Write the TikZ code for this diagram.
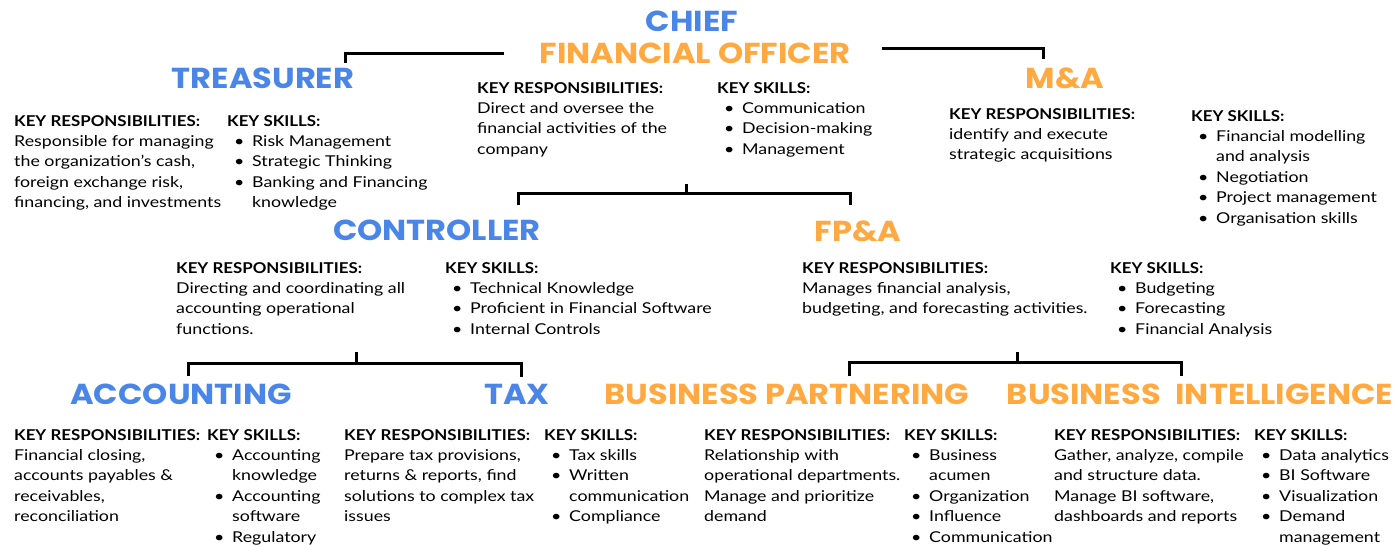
\documentclass[tikz,border=0pt]{standalone}
\usepackage{fontspec}
\setmainfont{Lato}[FakeStretch=1.19,BoldFeatures={FakeStretch=1.13}]
\newfontfamily\headfont{Poppins}[FakeStretch=1.11]
\definecolor{roleblue}{HTML}{4A86E8}
\definecolor{roleorange}{HTML}{FFA940}
\newcommand{\bul}[1]{\hspace*{7bp}\makebox[18bp][l]{\textbullet}#1}
\newcommand{\cont}[1]{\hspace*{25bp}#1}
\newcommand{\keyhead}[1]{\textbf{#1}}
\begin{document}
\begin{tikzpicture}[x=1bp,y=-1bp,
  role/.style={font=\headfont\bfseries\fontsize{29}{30}\selectfont,inner sep=0pt,anchor=base},
  bluerole/.style={role,text=roleblue},
  orangerole/.style={role,text=roleorange},
  info/.style={anchor=north west,align=left,inner sep=0pt,font=\fontsize{15}{20.5}\selectfont},
  link/.style={line width=3bp}]
\useasboundingbox (0,0) rectangle (1397,546);

% roles
\node[bluerole] (chief) at (692,32) {CHIEF};
\node[orangerole] (cfo) at (695,64) {FINANCIAL OFFICER};
\node[bluerole] (treasurer) at (263,89) {TREASURER};
\node[orangerole] (ma) at (1065,89) {M\&A};
\node[bluerole] (controller) at (437,241) {CONTROLLER};
\node[orangerole] (fpa) at (858,242) {FP\&A};
\node[bluerole] (accounting) at (181,404) {ACCOUNTING};
\node[bluerole] (tax) at (517,404) {TAX};
\node[orangerole] (bp) at (787,404) {BUSINESS PARTNERING};
\node[orangerole] (bi) at (1200,404) {BUSINESS\hspace{8bp} INTELLIGENCE};

% connectors
\draw[link] ([xshift=-35bp]cfo.west) -| ([xshift=82bp,yshift=5bp]treasurer.north);
\draw[link] ([xshift=31bp,yshift=5bp]cfo.east) -| ([xshift=-22bp,yshift=9bp]ma.north);
\coordinate (cfobar) at (686,193);
\draw[link] (cfobar) -- ++(0,-9);
\draw[link] ([xshift=81bp,yshift=15bp]controller.north) -- ++(0,-12) -| ([xshift=-8bp,yshift=16bp]fpa.north);
\coordinate (ctrlbar) at (356,362);
\draw[link] (ctrlbar) -- ++(0,-10);
\draw[link] ([xshift=7bp,yshift=7bp]accounting.north) -- ++(0,-13) -| ([xshift=4bp,yshift=7bp]tax.north);
\coordinate (fpabar) at (1017,361);
\draw[link] (fpabar) -- ++(0,-9);
\draw[link] ([xshift=62bp,yshift=7bp]bp.north) -- ++(0,-14) -| ([xshift=-19bp,yshift=7bp]bi.north);

% key responsibilities and skills
\node[info] (treasurerresp) at (14,115) {\keyhead{KEY RESPONSIBILITIES:}\\Responsible for managing\\the organization’s cash,\\foreign exchange risk,\\financing, and investments};
\node[info] (treasurerskill) at (227,115) {\keyhead{KEY SKILLS:}\\\bul{Risk Management}\\\bul{Strategic Thinking}\\\bul{Banking and Financing}\\\cont{knowledge}};
\node[info] (cforesp) at (477,82) {\keyhead{KEY RESPONSIBILITIES:}\\Direct and oversee the\\financial activities of the\\company};
\node[info] (cfoskill) at (717,82) {\keyhead{KEY SKILLS:}\\\bul{Communication}\\\bul{Decision-making}\\\bul{Management}};
\node[info] (maresp) at (949,108) {\keyhead{KEY RESPONSIBILITIES:}\\identify and execute\\strategic acquisitions};
\node[info] (maskill) at (1191,110) {\keyhead{KEY SKILLS:}\\\bul{Financial modelling}\\\cont{and analysis}\\\bul{Negotiation}\\\bul{Project management}\\\bul{Organisation skills}};
\node[info] (controllerresp) at (176,262) {\keyhead{KEY RESPONSIBILITIES:}\\Directing and coordinating all\\accounting operational\\functions.};
\node[info] (controllerskill) at (445,262) {\keyhead{KEY SKILLS:}\\\bul{Technical Knowledge}\\\bul{Proficient in Financial Software}\\\bul{Internal Controls}};
\node[info] (fparesp) at (802,262) {\keyhead{KEY RESPONSIBILITIES:}\\Manages financial analysis,\\budgeting, and forecasting activities.};
\node[info] (fpaskill) at (1110,262) {\keyhead{KEY SKILLS:}\\\bul{Budgeting}\\\bul{Forecasting}\\\bul{Financial Analysis}};
\node[info] (accountingresp) at (14,429) {\keyhead{KEY RESPONSIBILITIES:}\\Financial closing,\\accounts payables \&\\receivables,\\reconciliation};
\node[info] (accountingskill) at (207,429) {\keyhead{KEY SKILLS:}\\\bul{Accounting}\\\cont{knowledge}\\\bul{Accounting}\\\cont{software}\\\bul{Regulatory}};
\node[info] (taxresp) at (344,429) {\keyhead{KEY RESPONSIBILITIES:}\\Prepare tax provisions,\\returns \& reports, find\\solutions to complex tax\\issues};
\node[info] (taxskill) at (544,429) {\keyhead{KEY SKILLS:}\\\bul{Tax skills}\\\bul{Written}\\\cont{communication}\\\bul{Compliance}};
\node[info] (bpresp) at (704,429) {\keyhead{KEY RESPONSIBILITIES:}\\Relationship with\\operational departments.\\Manage and prioritize\\demand};
\node[info] (bpskill) at (904,429) {\keyhead{KEY SKILLS:}\\\bul{Business}\\\cont{acumen}\\\bul{Organization}\\\bul{Influence}\\\bul{Communication}};
\node[info] (biresp) at (1054,429) {\keyhead{KEY RESPONSIBILITIES:}\\Gather, analyze, compile\\and structure data.\\Manage BI software,\\dashboards and reports};
\node[info] (biskill) at (1254,429) {\keyhead{KEY SKILLS:}\\\bul{Data analytics}\\\bul{BI Software}\\\bul{Visualization}\\\bul{Demand}\\\cont{management}};
\end{tikzpicture}
\end{document}
